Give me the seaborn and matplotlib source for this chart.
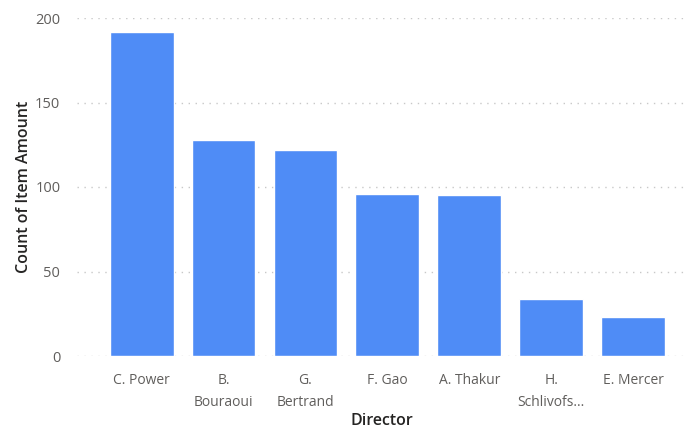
import pandas as pd
import seaborn as sns
import matplotlib.pyplot as plt

# Data
directors = ['C. Power', 'B.\nBouraoui', 'G.\nBertrand', 'F. Gao', 'A. Thakur',
             'H.\nSchlivofs...', 'E. Mercer']
counts = [192, 128, 122, 96, 95, 34, 23]

df = pd.DataFrame({'Director': directors, 'Count of Item Amount': counts})

sns.set_style('white')
plt.rcParams['font.family'] = ['Open Sans', 'DejaVu Sans']

fig = plt.figure(figsize=(6.87, 4.32), dpi=100)
ax = fig.add_axes([77 / 687, 1 - 356 / 432, 1 - 77 / 687, (356 - 18) / 432])

sns.barplot(data=df, x='Director', y='Count of Item Amount', color='#4F8CF6',
            saturation=1, width=0.78, ax=ax)

ax.set_ylim(0, 200)
ax.set_xlim(-0.79, 6.66)
ax.set_yticks([0, 50, 100, 150, 200])
ax.yaxis.grid(True, linestyle=(0, (1, 4)), color='#C8C8C8', linewidth=1)
ax.set_axisbelow(True)
for s in ax.spines.values():
    s.set_visible(False)

ax.tick_params(axis='both', length=0, labelsize=10, labelcolor='#605E5C')
ax.tick_params(axis='y', labelsize=10.5, pad=12)
ax.tick_params(axis='x', pad=12)
for t in ax.get_xticklabels():
    t.set_linespacing(1.65)
ax.set_xlabel('Director', fontsize=11.5, color='#252423', fontweight='semibold', labelpad=2)
ax.set_ylabel('Count of Item Amount', fontsize=11.5, color='#252423', fontweight='semibold', labelpad=2)

fig.savefig('out.png', dpi=100)
